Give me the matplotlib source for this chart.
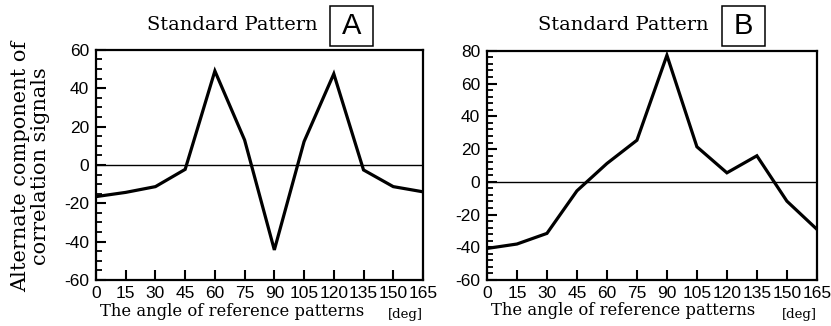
import numpy as np
import matplotlib.pyplot as plt
from matplotlib.patches import Rectangle
from matplotlib.ticker import MultipleLocator

plt.rcParams['axes.unicode_minus'] = False

# angle of reference patterns [deg]
angles = [0, 15, 30, 45, 60, 75, 90, 105, 120, 135, 150, 165]

# alternate component of correlation signals
pattern_a = [-16.5, -14.3, -11.3, -2.3, 49, 13, -44.3, 12.2, 47.5, -2.6, -11.3, -14]
pattern_b = [-40.7, -38, -31.5, -5.5, 11.2, 25.4, 77.3, 21.4, 5.5, 15.9, -11.8, -29]

serif = 'DejaVu Serif'
sans = 'Liberation Sans'

W, H = 831, 326
fig = plt.figure(figsize=(W / 100, H / 100), dpi=100)
ax_a = fig.add_axes([0.1155, 0.141, 0.3935, 0.706])
ax_b = fig.add_axes([0.586, 0.141, 0.397, 0.703])


def style_axes(ax, ylim, major, minor):
	ax.set_xlim(0, 165)
	ax.set_ylim(*ylim)
	ax.xaxis.set_major_locator(MultipleLocator(15))
	ax.yaxis.set_major_locator(MultipleLocator(major))
	ax.yaxis.set_minor_locator(MultipleLocator(minor))
	ax.tick_params(axis='both', which='major', direction='in', length=7, width=1.5,
		top=False, right=False, labelsize=12.5, pad=5)
	ax.tick_params(axis='x', which='major', pad=4)
	ax.tick_params(axis='y', which='minor', direction='in', length=4, width=1.3, right=False)
	ax.tick_params(axis='x', which='minor', bottom=False, top=False)
	for lab in ax.get_xticklabels() + ax.get_yticklabels():
		lab.set_fontfamily(sans)
	for sp in ax.spines.values():
		sp.set_linewidth(1.6)
	ax.axhline(0, color='black', lw=1.0)
	# x label sits left of centre with the unit tucked in at the right
	ax.text(0.012, -0.135, 'The angle of reference patterns', transform=ax.transAxes,
		fontfamily=serif, fontsize=11.8, ha='left', va='center')
	ax.text(1.0, -0.15, '[deg]', transform=ax.transAxes, fontfamily=serif,
		fontsize=9.5, ha='right', va='center')


ax_a.plot(angles, pattern_a, color='black', lw=2.3, solid_joinstyle='miter')
style_axes(ax_a, (-60, 60), 20, 5)
fig.text(31 / W, 1 - 166 / H, 'Alternate component of\ncorrelation signals',
	fontfamily=serif, fontsize=15, rotation=90, linespacing=1.05,
	ha='center', va='center')

ax_b.plot(angles, pattern_b, color='black', lw=2.3, solid_joinstyle='miter')
style_axes(ax_b, (-60, 80), 20, 4)


def panel_title(cx_text, box_x0, letter):
	y = 1 - 25 / H
	fig.text(cx_text / W, y, 'Standard Pattern', fontfamily=serif, fontsize=14,
		ha='center', va='center')
	fig.patches.append(Rectangle((box_x0 / W, 1 - 46 / H), 43 / W, 40 / H,
		transform=fig.transFigure, fill=False, ec='black', lw=1.1))
	fig.text((box_x0 + 21.5) / W, 1 - 26 / H, letter, fontfamily=sans, fontsize=21,
		ha='center', va='center')


panel_title(232, 330, 'A')
panel_title(623, 722, 'B')

fig.savefig('out.png', dpi=100)
